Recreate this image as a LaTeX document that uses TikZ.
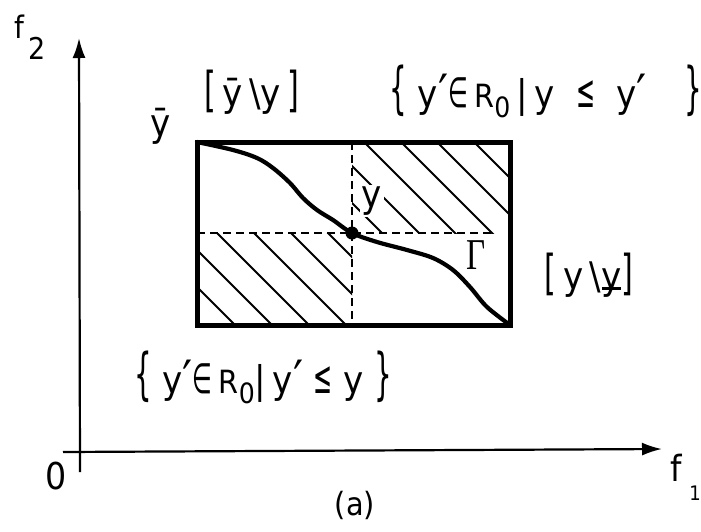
\documentclass[tikz,border=0pt]{standalone}
\usepackage{fontspec}
\setmainfont{DejaVu Sans Condensed}
\newfontfamily\grfont{Liberation Serif}
\usetikzlibrary{arrows.meta}
\newcommand\fs[2]{{\fontsize{#1}{#1}\selectfont #2}}
\newcommand\ylowbar{\makebox[0pt][l]{\hspace{0.02em}\rule[-0.03em]{0.5em}{0.08em}}y}
\newcommand\subzero{\raisebox{-10pt}{\fs{28}{0}}}
\newcommand\capR{\fs{32}{R}}
\newcommand\myLbrace{\scalebox{0.55}[1]{\fs{56}{\{}}}
\newcommand\myRbrace{\scalebox{0.55}[1]{\fs{56}{\}}}}
\newcommand\myLbrk{\scalebox{0.7}[1]{\fs{48}{[}}}
\newcommand\myRbrk{\scalebox{0.7}[1]{\fs{48}{]}}}
\newcommand\myVbar{\fs{38}{|}}
\newcommand\myElem{\scalebox{0.6}[1]{\fs{42}{∈}}}
\newcommand\myLeq{\scalebox{0.55}[1]{\fs{46}{≤}}}
\newcommand\myPrime{\raisebox{-3pt}{\fs{50}{′}}}
\begin{document}
\begin{tikzpicture}[x=1pt,y=-1pt,
  axis/.style={line width=2.2pt,-{Latex[length=20pt,width=13pt]}},
  boxline/.style={line width=5pt,line join=miter},
  hatch/.style={line width=2.1pt},
  guide/.style={line width=2.1pt,dash pattern=on 8pt off 5pt},
  curveline/.style={line width=4.2pt,line cap=round},
  lbl/.style={font=\fontsize{38}{40}\selectfont,inner sep=0pt},
  axlbl/.style={font=\fontsize{30}{30}\selectfont,inner sep=0pt}]
\useasboundingbox (0,0) rectangle (701,531);
% axes
\coordinate (xstart) at (63,452);
\coordinate (xtip) at (662,449);
\coordinate (ystart) at (80,472);
\coordinate (ytip) at (79,38);
\draw[axis] (xstart) -- (xtip);
\draw[axis] (ystart) -- (ytip);
% box corners and point
\coordinate (A) at (197,142);
\coordinate (B) at (510,325);
\coordinate (P) at (352,233);
\coordinate (hend) at (492,233);
% hatching
\begin{scope}
  \clip (P) rectangle (A -| B);
  \foreach \u in {149,186,222,259,295,332}
    \draw[hatch] (\u+60,60) -- (\u+300,300);
\end{scope}
\begin{scope}
  \clip (P) rectangle (A |- B);
  \foreach \u in {-90,-53,-16,21,58,95}
    \draw[hatch] (\u+200,200) -- (\u+350,350);
\end{scope}
\node[lbl,fill=white,inner sep=2pt] (ylab) at (372,201) {y};
% dashed guides
\draw[guide] (P |- A) -- (P |- B);
\draw[guide] (A |- P) -- (hend);
% curve Gamma
\draw[curveline] plot[smooth,tension=0.55] coordinates {
  (197,142) (233,150) (257,158) (273,168) (290,183) (303,198) (317,210)
  (333,220) (352,233) (377,242) (407,250) (433,258) (453,270) (470,287)
  (487,307) (510,325)};
% box
\draw[boxline] (A) rectangle (B);
\node[circle,fill=black,inner sep=0pt,minimum size=13pt] (p) at (P) {};
% labels
\node[axlbl,font=\fontsize{31}{31}\selectfont] (f2f) at (19,27) {f};
\node[axlbl] (f2s) at (37,48) {2};
\node[axlbl,font=\fontsize{36}{36}\selectfont] (f1f) at (676,468) {f};
\node[axlbl,font=\fontsize{20}{20}\selectfont] (f1s) at (695,493) {1};
\node[axlbl,font=\fontsize{37}{37}\selectfont] (zero) at (56,476) {0};
\node[lbl] (ybar) at (161,126) {ȳ};
\node[lbl] (lab1) at (252,92) {\myLbrk\,ȳ\,\textbackslash y\,\myRbrk};
\node[lbl] (lab2) at (546,91) {\myLbrace\;y\myPrime\myElem\,\capR\subzero\,\myVbar\,y\;\;\myLeq\;\;y\myPrime\hspace{1.0em}\myRbrace};
\node[lbl] (lab3) at (263,377) {\myLbrace\;y\myPrime\myElem\,\capR\subzero\myVbar\,y\myPrime\;\myLeq\;y\;\myRbrace};
\node[lbl] (lab4) at (589,275) {\myLbrk\,y\,\textbackslash\ylowbar\myRbrk};
\node[inner sep=0pt] (gam) at (476,255) {\scalebox{0.75}[1]{\grfont\fontsize{44}{44}\selectfont Γ}};
\node[lbl,font=\fontsize{32}{34}\selectfont] (cap) at (355,505) {(a)};
\end{tikzpicture}
\end{document}
